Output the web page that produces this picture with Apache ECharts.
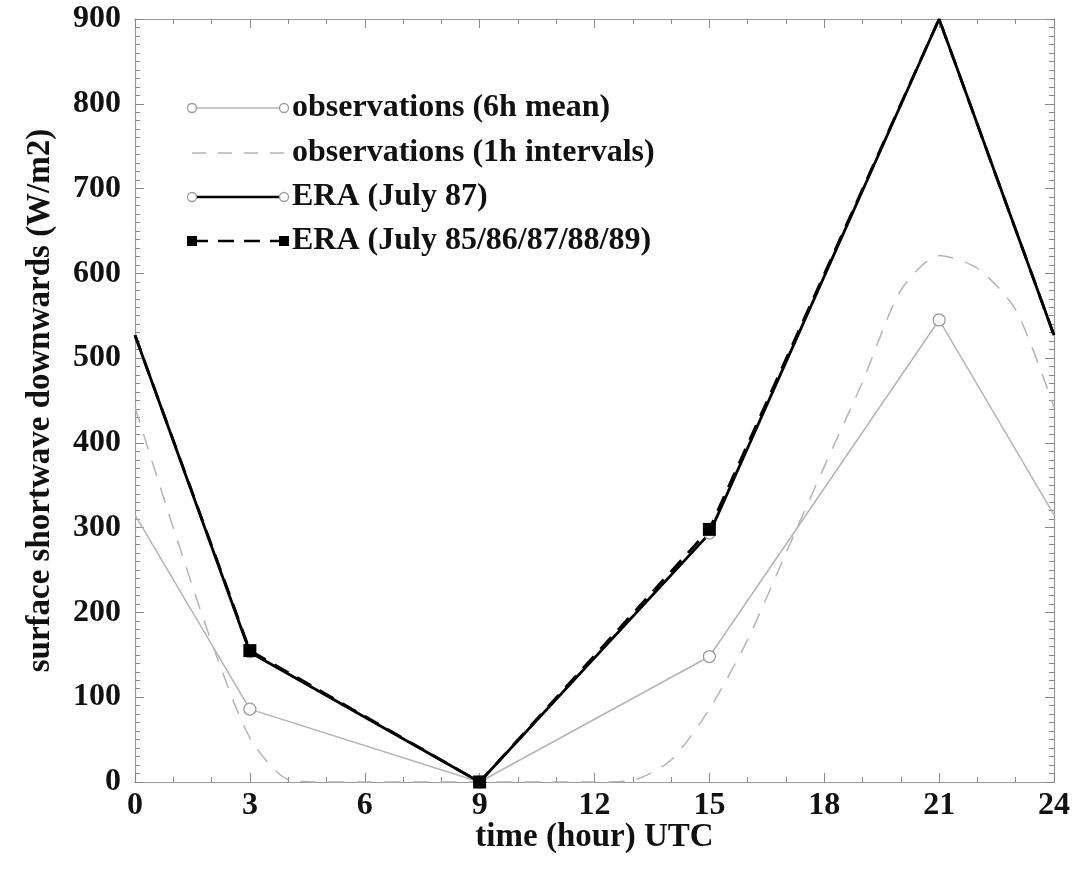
<!DOCTYPE html>
<html>
<head>
<meta charset="utf-8">
<style>
  html, body { margin: 0; padding: 0; background: #fff; }
  #chart { width: 1073px; height: 871px; }
</style>
<script src="https://cdn.jsdelivr.net/npm/echarts@6/dist/echarts.min.js"></script>
</head>
<body>
<div id="chart"></div>
<script>
// 6-hourly sample times (hours UTC)
const hours6 = [0, 3, 9, 15, 21, 24];
// hourly sample times
const hours1 = [0,1,2,3,4,5,6,7,8,9,10,11,12,13,14,15,16,17,18,19,20,21,22,23,24];

// surface shortwave downwards (W/m2)
const obs6hMean = [315, 86, 0, 148, 545, 315];
const obs1h = [442, 300, 165, 52, 3, 0, 0, 0, 0, 0, 0, 0, 0, 2, 26, 86, 168, 270, 372, 472, 580, 621, 606, 557, 442];
const era87 = [527, 153, 0, 293, 900, 527];
const era8589 = [527, 155, 0, 298, 900, 527];

const seriesNames = [
  'observations (6h mean)',
  'observations (1h intervals)',
  'ERA (July 87)',
  'ERA (July 85/86/87/88/89)'
];

const X_MIN = 0, X_MAX = 24, Y_MIN = 0, Y_MAX = 900;

// points sitting on the frame get no marker
function pairs(xs, ys) {
  return xs.map((x, i) => {
    const onEdge = x === X_MIN || x === X_MAX || ys[i] >= Y_MAX;
    return onEdge ? { value: [x, ys[i]], symbol: 'none' } : { value: [x, ys[i]] };
  });
}

const FONT = '"Liberation Serif", "DejaVu Serif", serif';
const GRAY = '#b4b4b4';
const DARK_GRAY = '#9a9a9a';
const LABEL_SIZE = 32;
const TITLE_SIZE = 33;

const chart = echarts.init(document.getElementById('chart'));

const tickStyle = { color: '#888', width: 1 };
const baseX = {
  type: 'value', min: X_MIN, max: X_MAX, interval: 3,
  axisLine: { show: true, onZero: false, lineStyle: { color: '#999', width: 1.2 } },
  axisTick: { show: true, inside: true, length: 9, lineStyle: tickStyle },
  minorTick: { show: true, splitNumber: 3, length: 5, lineStyle: tickStyle },
  splitLine: { show: false }
};
const baseY = {
  type: 'value', min: Y_MIN, max: Y_MAX, interval: 100,
  axisLine: { show: true, onZero: false, lineStyle: { color: '#999', width: 1.2 } },
  axisTick: { show: true, inside: true, length: 9, lineStyle: tickStyle },
  minorTick: { show: true, splitNumber: 10, length: 5, lineStyle: tickStyle },
  splitLine: { show: false }
};

// legend drawn as a small key in the upper-left of the plot
const keyX0 = 192, keyX1 = 284, keyText = 292;
const keyRows = [108, 153, 197, 241];
const legendGraphics = [];
function keyLine(y, stroke, width, dash) {
  legendGraphics.push({
    type: 'line', shape: { x1: keyX0, y1: y, x2: keyX1, y2: y },
    style: { stroke: stroke, lineWidth: width, lineDash: dash || null }, z: 100
  });
}
function keyCircle(y, stroke) {
  [keyX0, keyX1].forEach(x => legendGraphics.push({
    type: 'circle', shape: { cx: x, cy: y, r: 4.5 },
    style: { fill: '#fff', stroke: stroke, lineWidth: 1.3 }, z: 101
  }));
}
function keySquare(y) {
  [keyX0, keyX1].forEach(x => legendGraphics.push({
    type: 'rect', shape: { x: x - 5, y: y - 5, width: 10, height: 10 },
    style: { fill: '#000' }, z: 101
  }));
}
function keyLabel(y, text) {
  legendGraphics.push({
    type: 'text', x: keyText, y: y, z: 101,
    style: { text: text, fill: '#111', font: 'bold ' + LABEL_SIZE + 'px ' + FONT, textVerticalAlign: 'middle' }
  });
}
keyLine(keyRows[0], GRAY, 1.5); keyCircle(keyRows[0], DARK_GRAY); keyLabel(keyRows[0], seriesNames[0]);
keyLine(keyRows[1], GRAY, 1.5, [14, 12]); keyLabel(keyRows[1], seriesNames[1]);
keyLine(keyRows[2], '#000', 2.6); keyCircle(keyRows[2], DARK_GRAY); keyLabel(keyRows[2], seriesNames[2]);
keyLine(keyRows[3], '#000', 2.6, [16, 10]); keySquare(keyRows[3]); keyLabel(keyRows[3], seriesNames[3]);

const labelStyle = { fontFamily: FONT, fontWeight: 'bold', fontSize: LABEL_SIZE, color: '#111' };
const titleStyle = { fontFamily: FONT, fontWeight: 'bold', fontSize: TITLE_SIZE, color: '#111' };

chart.setOption({
  backgroundColor: '#fff',
  animation: false,
  grid: { left: 135, right: 18, top: 19, bottom: 89, containLabel: false },
  xAxis: [
    Object.assign({}, baseX, {
      position: 'bottom',
      name: 'time (hour) UTC', nameLocation: 'middle', nameGap: 39, nameMoveOverlap: false,
      nameTextStyle: titleStyle,
      axisLabel: Object.assign({ margin: 8 }, labelStyle)
    }),
    Object.assign({}, baseX, { position: 'top', axisLabel: { show: false } })
  ],
  yAxis: [
    Object.assign({}, baseY, {
      position: 'left',
      name: 'surface shortwave downwards (W/m2)', nameLocation: 'middle', nameGap: 78, nameRotate: 90,
      nameMoveOverlap: false,
      nameTextStyle: titleStyle,
      axisLabel: Object.assign({ margin: 14 }, labelStyle)
    }),
    Object.assign({}, baseY, { position: 'right', axisLabel: { show: false } })
  ],
  graphic: legendGraphics,
  series: [
    {
      name: seriesNames[1], type: 'line', xAxisIndex: 0, yAxisIndex: 0,
      data: hours1.map((h, i) => [h, obs1h[i]]),
      smooth: 0.25, showSymbol: false, clip: true,
      lineStyle: { color: GRAY, width: 1.5, type: [16, 12] }, z: 2
    },
    {
      name: seriesNames[0], type: 'line', xAxisIndex: 0, yAxisIndex: 0,
      data: pairs(hours6, obs6hMean),
      symbol: 'circle', symbolSize: 12, clip: true,
      itemStyle: { color: '#fff', borderColor: DARK_GRAY, borderWidth: 1.3 },
      lineStyle: { color: GRAY, width: 1.5 }, z: 3
    },
    {
      name: seriesNames[2], type: 'line', xAxisIndex: 0, yAxisIndex: 0,
      data: pairs(hours6, era87),
      symbol: 'circle', symbolSize: 11, clip: true,
      itemStyle: { color: '#fff', borderColor: DARK_GRAY, borderWidth: 1.3 },
      lineStyle: { color: '#000', width: 2.8 }, z: 4
    },
    {
      name: seriesNames[3], type: 'line', xAxisIndex: 0, yAxisIndex: 0,
      data: pairs(hours6, era8589),
      symbol: 'rect', symbolSize: 13, clip: true,
      itemStyle: { color: '#000' },
      lineStyle: { color: '#000', width: 2.8, type: [16, 10] }, z: 5
    }
  ]
});
</script>
</body>
</html>
